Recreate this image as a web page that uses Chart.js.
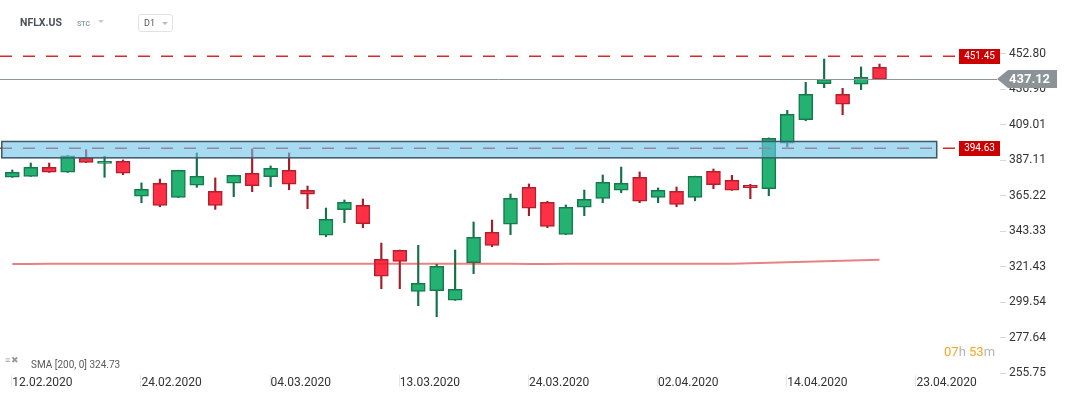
<!DOCTYPE html>
<html>
<head>
<meta charset="utf-8">
<script src="https://cdn.jsdelivr.net/npm/chart.js@4"></script>
<style>
  html, body { margin: 0; padding: 0; background: #fff; }
  body { font-family: Roboto, "Liberation Sans", sans-serif; }
  #wrap { position: relative; width: 1069px; height: 398px; overflow: hidden; }
  #wrap canvas { position: absolute; left: 0; top: 0; }
  .abs { position: absolute; line-height: 1; white-space: nowrap; }
  .sym { left: 20px; top: 18px; font-size: 10.5px; font-weight: 700; color: #4a5158; }
  .stc { left: 77px; top: 21px; font-size: 7px; font-weight: 700; color: #8fa0ad; }
  .tri { width: 0; height: 0; border-left: 3.5px solid transparent; border-right: 3.5px solid transparent; border-top: 3.5px solid #c8c8c8; }
  .tf { left: 138px; top: 14px; width: 33px; height: 16px; border: 1px solid #e2e2e2; border-radius: 3px; }
  .tf span { position: absolute; left: 5px; top: 4px; font-size: 9px; color: #555; line-height: 1; }
  .legend { left: 31px; top: 360px; font-size: 10px; color: #5a5a5a; }
  .icons { left: 5px; top: 356px; font-size: 9px; color: #9a9a9a; letter-spacing: 1px; }
  .timer { left: 944px; top: 345px; font-size: 13px; color: #b5b5b5; }
  .timer b { font-weight: 400; color: #f5a623; }
</style>
</head>
<body>
<div id="wrap">
  <canvas id="chart" width="1069" height="398"></canvas>
  <div class="abs sym">NFLX.US</div>
  <div class="abs stc">STC</div>
  <div class="abs tri" style="left:98px;top:20px"></div>
  <div class="abs tf"><span>D1</span></div>
  <div class="abs tri" style="left:162px;top:22px;border-top-color:#bbb"></div>
  <div class="abs icons">&#8801;&#10006;</div>
  <div class="abs legend">SMA [200, 0] 324.73</div>
  <div class="abs timer"><b>07</b>h <b>53</b>m</div>
</div>
<script>
"use strict";

// daily candles 12.02.2020 - 21.04.2020
const opens  = [376.7, 377.3, 382.9, 379.8, 388.6, 385.3, 386.6, 365.0, 373.0, 364.3, 371.8, 368.0,
                373.0, 379.2, 377.1, 381.0, 368.7, 340.9, 356.7, 359.4, 326.1, 331.6, 306.3, 306.7,
                300.8, 324.0, 342.7, 347.7, 370.5, 361.3, 341.5, 358.2, 363.7, 368.7, 376.7, 364.2,
                368.0, 364.2, 380.4, 374.8, 371.8, 369.7, 397.7, 412.2, 434.5, 427.9, 434.1, 444.6];
const highs  = [381.2, 385.5, 385.5, 390.2, 393.7, 389.7, 387.4, 373.2, 375.6, 381.1, 391.7, 376.3,
                378.0, 394.2, 383.7, 391.7, 371.3, 357.7, 362.7, 363.3, 336.1, 331.8, 334.7, 323.0,
                331.8, 349.1, 350.3, 366.4, 372.6, 361.9, 359.6, 368.8, 378.1, 383.0, 380.0, 370.1,
                370.7, 377.4, 381.8, 377.9, 372.4, 401.0, 418.0, 435.3, 449.7, 431.6, 444.8, 446.6];
const lows   = [376.6, 377.2, 379.7, 379.7, 385.8, 376.7, 378.3, 361.0, 358.5, 364.2, 370.5, 356.9,
                364.7, 367.8, 370.9, 369.0, 357.3, 340.0, 348.7, 345.6, 307.9, 307.9, 297.4, 290.6,
                300.7, 317.2, 333.8, 341.3, 353.0, 345.6, 341.4, 353.0, 361.0, 367.2, 361.0, 361.0,
                358.5, 362.2, 369.7, 368.6, 363.5, 365.3, 395.6, 411.6, 432.0, 415.3, 430.8, 437.1];
const closes = [379.8, 382.9, 379.8, 390.0, 385.9, 386.6, 379.2, 369.3, 359.4, 381.0, 377.3, 359.4,
                377.9, 371.5, 382.2, 372.4, 366.2, 350.8, 361.3, 348.0, 315.6, 324.8, 311.3, 321.8,
                307.6, 339.7, 334.7, 363.7, 357.6, 346.4, 358.2, 363.1, 373.6, 373.0, 361.9, 368.7,
                359.9, 377.3, 372.1, 368.7, 370.3, 400.8, 415.6, 427.9, 437.1, 421.8, 438.4, 437.12];
const sma200 = [323.2, 323.2, 323.3, 323.3, 323.3, 323.4, 323.4, 323.4, 323.4, 323.4, 323.4, 323.4,
                323.4, 323.4, 323.4, 323.4, 323.4, 323.4, 323.4, 323.4, 323.4, 323.4, 323.4, 323.4,
                323.4, 323.4, 323.4, 323.3, 323.2, 323.2, 323.3, 323.4, 323.4, 323.4, 323.4, 323.4,
                323.4, 323.4, 323.4, 323.4, 323.6, 323.9, 324.2, 324.5, 324.8, 325.1, 325.5, 325.8];

const dateTicks = ["12.02.2020", "24.02.2020", "04.03.2020", "13.03.2020",
                   "24.03.2020", "02.04.2020", "14.04.2020", "23.04.2020"];
const tickStep = 7; // trading days between date labels
const priceTicks = [452.80, 430.90, 409.01, 387.11, 365.22, 343.33, 321.43, 299.54, 277.64, 255.75];

const lastPrice = 437.12;
const resistance = 451.45;
const support = 394.63;
const zoneLow = 388.7, zoneHigh = 398.8;
const zoneFrom = -0.57, zoneTo = 50.1; // in candle index units

const UP = "#24b273", UP_EDGE = "#177a4e", UP_WICK = "#137048";
const DN = "#ff3046", DN_EDGE = "#b51f2d", DN_WICK = "#a61c28";
const isUp = (i) => closes[i] >= opens[i];

function dashed(ctx, x0, x1, y, color) {
  ctx.beginPath();
  ctx.setLineDash([12, 11]);
  ctx.strokeStyle = color; ctx.lineWidth = 1.5;
  ctx.moveTo(x0, y); ctx.lineTo(x1, y); ctx.stroke();
  ctx.setLineDash([]);
}

function redTag(ctx, left, y, text) {
  ctx.fillStyle = "#cc0000";
  ctx.fillRect(left, Math.round(y) - 7, 41, 15);
  ctx.fillStyle = "#fff";
  ctx.font = "10px Roboto";
  ctx.textAlign = "center"; ctx.textBaseline = "middle";
  ctx.fillText(text, left + 20.5, Math.round(y) + 0.5);
}

// keep the plot flush with the canvas edges (no label padding)
function noPad(s) { s.paddingTop = 0; s.paddingBottom = 0; s.paddingLeft = 0; s.paddingRight = 0; }

const overlay = {
  id: "overlay",
  afterDatasetsDraw(chart) {
    const { ctx, chartArea: a, scales: { x, y } } = chart;
    const tagLeft = a.right - 41;
    ctx.save();

    // support line sits under the translucent zone
    const sy = y.getPixelForValue(support);
    dashed(ctx, a.left, tagLeft, sy, "#d42a2a");

    const zx0 = x.getPixelForValue(zoneFrom), zx1 = x.getPixelForValue(zoneTo);
    const zy0 = y.getPixelForValue(zoneHigh), zy1 = y.getPixelForValue(zoneLow);
    ctx.fillStyle = "rgba(107,195,233,0.6)";
    ctx.fillRect(zx0, zy0, zx1 - zx0, zy1 - zy0);
    ctx.strokeStyle = "#3e5866"; ctx.lineWidth = 1.5;
    ctx.strokeRect(zx0, zy0, zx1 - zx0, zy1 - zy0);

    const ry = y.getPixelForValue(resistance);
    dashed(ctx, a.left, tagLeft, ry, "#d42a2a");

    // last price line + tag
    const py = y.getPixelForValue(lastPrice);
    ctx.beginPath();
    ctx.strokeStyle = "#8d9599"; ctx.lineWidth = 1;
    ctx.moveTo(a.left, Math.round(py) + 0.5); ctx.lineTo(a.right - 3, Math.round(py) + 0.5); ctx.stroke();

    redTag(ctx, tagLeft, ry, resistance.toFixed(2));
    redTag(ctx, tagLeft, sy, support.toFixed(2));
    ctx.restore();
  },
  afterDraw(chart) {
    const { ctx, chartArea: a, scales: { x, y } } = chart;
    ctx.save();
    // date separators
    ctx.strokeStyle = "#e6e6e6"; ctx.lineWidth = 1;
    x.ticks.forEach((t) => {
      const px = Math.round(x.getPixelForValue(t.value)) - 0.5;
      ctx.beginPath(); ctx.moveTo(px, a.bottom + 1); ctx.lineTo(px, a.bottom + 13); ctx.stroke();
    });
    // last price tag over the axis labels
    const py = Math.round(y.getPixelForValue(lastPrice));
    ctx.fillStyle = "#8b9397";
    ctx.beginPath();
    ctx.moveTo(a.right - 3, py);
    ctx.lineTo(a.right + 8, py - 9);
    ctx.lineTo(a.right + 57, py - 9);
    ctx.lineTo(a.right + 57, py + 9);
    ctx.lineTo(a.right + 8, py + 9);
    ctx.closePath(); ctx.fill();
    ctx.fillStyle = "#fff";
    ctx.font = "bold 13px Roboto";
    ctx.textAlign = "left"; ctx.textBaseline = "middle";
    ctx.fillText(lastPrice.toFixed(2), a.right + 9, py + 0.5);
    ctx.restore();
  },
};

Chart.defaults.font.family = "Roboto";

new Chart(document.getElementById("chart"), {
  type: "bar",
  data: {
    datasets: [
      {
        type: "line",
        data: sma200.map((v, i) => ({ x: i, y: v })),
        borderColor: "rgba(215,30,30,0.55)", borderWidth: 2,
        pointRadius: 0, tension: 0, order: 0,
      },
      {
        data: opens.map((o, i) => ({ x: i, y: [o, closes[i]] })),
        backgroundColor: opens.map((o, i) => (isUp(i) ? UP : DN)),
        borderColor: opens.map((o, i) => (isUp(i) ? UP_EDGE : DN_EDGE)),
        borderWidth: 1.5, borderSkipped: false, barThickness: 14, grouped: false, order: 1,
      },
      {
        data: lows.map((l, i) => ({ x: i, y: [l, highs[i]] })),
        backgroundColor: lows.map((l, i) => (isUp(i) ? UP_WICK : DN_WICK)),
        borderWidth: 0, barThickness: 1.5, grouped: false, order: 2,
      },
    ],
  },
  options: {
    responsive: false,
    animation: false,
    devicePixelRatio: 1,
    layout: { padding: 0 },
    plugins: { legend: { display: false }, tooltip: { enabled: false } },
    scales: {
      x: {
        type: "linear", min: -0.667, max: 53.53, offset: false,
        grid: { display: false, drawTicks: false }, border: { display: false },
        afterBuildTicks: (s) => { s.ticks = dateTicks.map((_, k) => ({ value: k * tickStep })); },
        afterFit: (s) => { s.height = 24; noPad(s); },
        ticks: {
          autoSkip: false, maxRotation: 0, align: "start", padding: 2,
          color: "#333", font: { size: 12 },
          callback: (v) => dateTicks[Math.round(v / tickStep)],
        },
      },
      y: {
        position: "right", min: 255.27, max: 486.13,
        grid: { drawOnChartArea: false, drawTicks: true, tickLength: 6, color: "#d8d8d8" },
        border: { display: false },
        afterBuildTicks: (s) => { s.ticks = priceTicks.map((v) => ({ value: v })); },
        afterFit: (s) => { s.width = 69; noPad(s); },
        ticks: {
          autoSkip: false, padding: 3, color: "#333", font: { size: 12 },
          callback: (v) => v.toFixed(2),
        },
      },
    },
  },
  plugins: [overlay],
});
</script>
</body>
</html>
